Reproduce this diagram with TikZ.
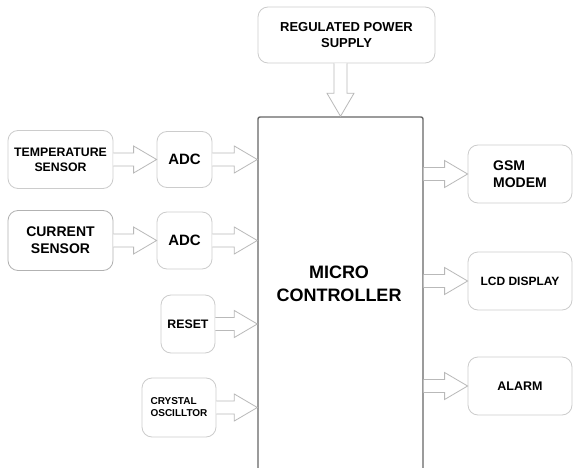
\documentclass[tikz,border=0pt]{standalone}
\usepackage{fontspec}
\setmainfont{Liberation Sans}
\usetikzlibrary{positioning,calc}

\begin{document}
\begin{tikzpicture}[x=1pt, y=-1pt,
  blk/.style={draw=gray!40, line width=0.8pt, rounded corners=10pt, align=center,
    inner sep=0pt},
  sz/.style={font={\pgfmathsetmacro\bsk{#1*1.2}\fontsize{#1}{\bsk}\selectfont\bfseries}},
  hollow/.style={draw=gray!55, fill=white, line width=0.8pt, to path={
    ($(\tikztostart)!6.5pt!90:(\tikztotarget)$)
    -- ($(\tikztotarget)!23pt!(\tikztostart)!6.5pt!90:(\tikztotarget)$)
    -- ($(\tikztotarget)!23pt!(\tikztostart)!13.5pt!90:(\tikztotarget)$)
    -- (\tikztotarget)
    -- ($(\tikztotarget)!23pt!(\tikztostart)!13.5pt!-90:(\tikztotarget)$)
    -- ($(\tikztotarget)!23pt!(\tikztostart)!6.5pt!-90:(\tikztotarget)$)
    -- ($(\tikztostart)!6.5pt!-90:(\tikztotarget)$)}}]
\clip (0,0) rectangle (573,468);
\fill[white] (0,0) rectangle (573,468);
% controller, open at the bottom of the page
\node[draw=black!60, line width=1.4pt, rounded corners=2pt, minimum width=165pt,
  minimum height=420pt] (mc) at (340.5,327) {};
\node[sz=18, align=center] (mctxt) at (339,284) {MICRO\\[1pt]CONTROLLER};
% supply
\node[blk, sz=13, minimum width=177pt, minimum height=56pt] (psu) at (346.5,35)
  {REGULATED POWER\\SUPPLY};
% inputs
\node[blk, sz=12.3, minimum width=105pt, minimum height=58pt] (tsens) at (60.5,159.5)
  {TEMPERATURE\\SENSOR};
\node[blk, sz=15, minimum width=55pt, minimum height=56pt] (adc1) at (184.5,159.5) {ADC};
\node[blk, draw=gray!60, sz=14, minimum width=105pt, minimum height=60pt] (csens) at (60.5,240.5)
  {CURRENT\\SENSOR};
\node[blk, sz=15, minimum width=55pt, minimum height=57pt] (adc2) at (184.5,240.5) {ADC};
\node[blk, sz=12.3, minimum width=54pt, minimum height=58pt] (reset) at (188,324) {RESET};
\node[blk, sz=10, align=left, minimum width=74pt, minimum height=59pt] (xtal) at (179,407.5)
  {CRYSTAL\\OSCILLTOR};
% outputs
\node[blk, sz=14, align=left, minimum width=104pt, minimum height=58pt] (gsm) at (520,174)
  {GSM\\MODEM};
\node[blk, sz=12, minimum width=104pt, minimum height=58pt] (lcd) at (520,281) {LCD DISPLAY};
\node[blk, sz=12.5, minimum width=104pt, minimum height=58pt] (alarm) at (520,386) {ALARM};

\coordinate (psuout) at (psu.south -| mc.north);
\draw[hollow] (psuout) to (mc.north);
\draw[hollow] (tsens.east) to (adc1.west);
\draw[hollow] (csens.east) to (adc2.west);
\draw[hollow] (adc1.east) to (adc1.east -| mc.west);
\draw[hollow] (adc2.east) to (adc2.east -| mc.west);
\draw[hollow] (reset.east) to (reset.east -| mc.west);
\draw[hollow] (xtal.east) to (xtal.east -| mc.west);
\draw[hollow] (gsm.west -| mc.east) to (gsm.west);
\draw[hollow] (lcd.west -| mc.east) to (lcd.west);
\draw[hollow] (alarm.west -| mc.east) to (alarm.west);
\end{tikzpicture}
\end{document}
